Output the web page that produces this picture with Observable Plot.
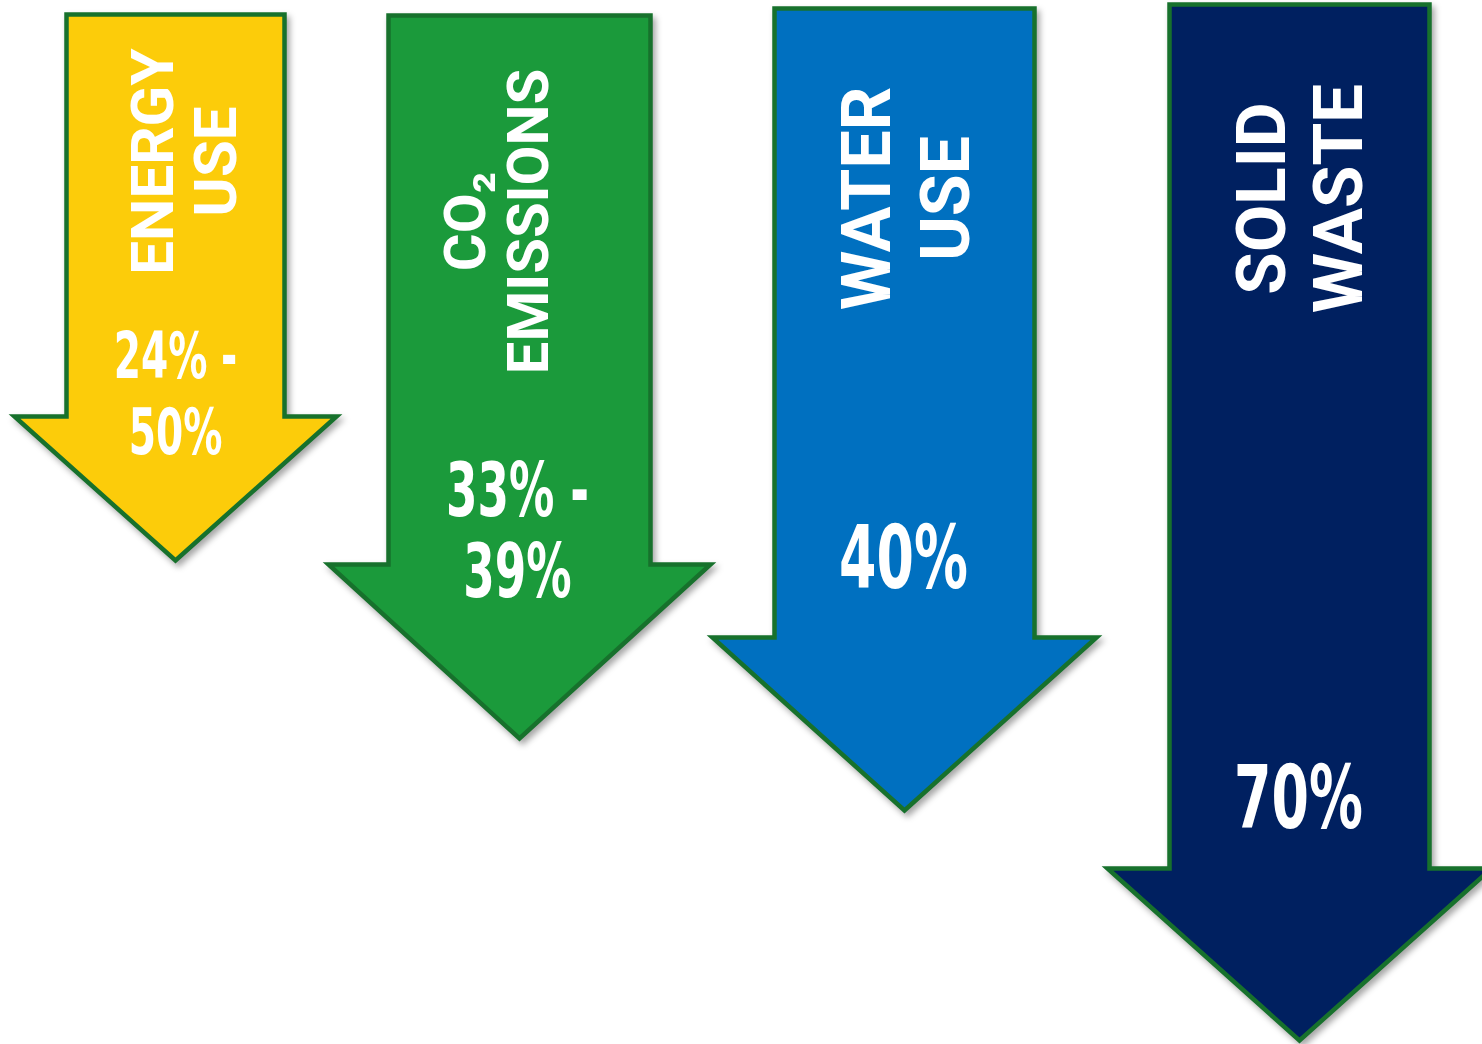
<!DOCTYPE html>
<html>
<head>
<meta charset="utf-8">
<script src="https://cdn.jsdelivr.net/npm/d3@7"></script>
<script src="https://cdn.jsdelivr.net/npm/@observablehq/plot@0.6"></script>
<style>
  html, body { margin: 0; padding: 0; background: #ffffff; }
  #chart svg { display: block; }
</style>
</head>
<body>
<div id="chart"></div>
<script>
// ---- data ----
const categories = ["ENERGY USE", "CO₂ EMISSIONS", "WATER USE", "SOLID WASTE"];
const labelLines = ["ENERGY\nUSE", "CO₂\nEMISSIONS", "WATER\nUSE", "SOLID\nWASTE"];
const reductionLabels = ["24% -\n50%", "33% -\n39%", "40%", "70%"];
// arrow extents, in chart units (0 = top of chart)
const arrowCenter = [175, 519, 904, 1299];
const arrowTop = [14, 15, 8, 4];
const arrowShoulder = [416, 564, 637, 868];
const arrowTip = [560, 738, 810, 1040];
const shaftHalf = [109, 131, 130, 130];
const headHalf = [161, 191, 192, 192];
// label anchor points
const labelX = [184, 496, 904, 1298];
const labelY = [161, 221, 198, 198];
const valueX = [175, 517, 903, 1298];
const valueY = [391, 530, 557, 797];

const fills = ["#FCCC0A", "#1B9A3B", "#0070C0", "#002060"];
const labelSize = [60, 58, 68, 69];
const labelLead = [1.05, 1.09, 1.15, 1.12];
const valueSize = [64, 74, 88, 88];
const valueLead = [1.2, 1.1, 1.1, 1.1];

// polygon vertices for each arrow
const vertices = categories.flatMap((c, i) => {
  const cx = arrowCenter[i], s = shaftHalf[i], h = headHalf[i];
  return [
    [cx - s, arrowTop[i]], [cx + s, arrowTop[i]], [cx + s, arrowShoulder[i]],
    [cx + h, arrowShoulder[i]], [cx, arrowTip[i]], [cx - h, arrowShoulder[i]],
    [cx - s, arrowShoulder[i]]
  ].map(([x, y]) => ({category: c, x, y}));
});

const labels = categories.map((c, i) => ({category: c, text: labelLines[i], x: labelX[i], y: labelY[i]}));
const values = categories.map((c, i) => ({category: c, text: reductionLabels[i], x: valueX[i], y: valueY[i]}));

const marks = [
  Plot.line(vertices, {
    x: "x", y: "y", z: "category", fill: "category", curve: "linear-closed",
    stroke: "#17712C", strokeWidth: 4.5, strokeLinejoin: "miter", strokeMiterlimit: 10
  })
];
categories.forEach((c, i) => {
  marks.push(Plot.text(labels.filter(d => d.category === c), {
    x: "x", y: "y", text: "text", rotate: -90, fill: "white",
    fontFamily: "Roboto, 'Liberation Sans', sans-serif", fontWeight: 700,
    fontSize: labelSize[i], lineHeight: labelLead[i], lineAnchor: "middle", textAnchor: "middle"
  }));
});
categories.forEach((c, i) => {
  marks.push(Plot.text(values.filter(d => d.category === c), {
    x: "x", y: "y", text: "text", fill: "white",
    fontFamily: "'Liberation Sans Narrow', 'DejaVu Sans Condensed', 'Liberation Sans', sans-serif", fontWeight: 700,
    fontSize: valueSize[i], lineHeight: valueLead[i], lineAnchor: "middle", textAnchor: "middle"
  }));
});

const chart = Plot.plot({
  width: 1482,
  height: 1044,
  margin: 0,
  x: {domain: [0, 1482], range: [0, 1482], axis: null},
  y: {domain: [0, 1044], range: [0, 1044], axis: null},
  color: {domain: categories, range: fills},
  style: {background: "white", overflow: "hidden"},
  marks
});

// soft drop shadow under the arrows, condensed value labels
const svg = d3.select(chart);
svg.selectAll("g[aria-label='line']").style("filter", "drop-shadow(3px 4px 3px rgba(0,0,0,0.35))");
svg.selectAll("g[aria-label='text'] text").each(function() {
  const t = this.getAttribute("transform") || "";
  if (!t.includes("rotate")) this.setAttribute("transform", t + " scale(0.68,1)");
});

document.getElementById("chart").appendChild(chart);
</script>
</body>
</html>
